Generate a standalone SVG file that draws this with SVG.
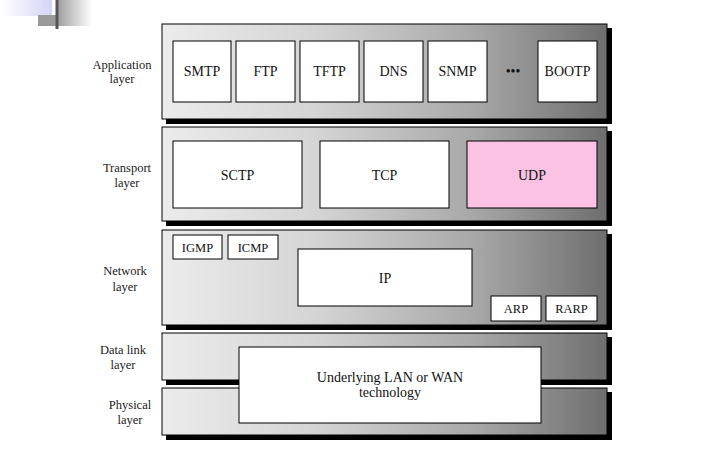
<svg xmlns="http://www.w3.org/2000/svg" width="720" height="454" viewBox="0 0 720 454">
<defs>
<linearGradient id="band" x1="0" y1="0" x2="1" y2="0">
<stop offset="0" stop-color="#ececec"/>
<stop offset="0.35" stop-color="#d4d4d4"/>
<stop offset="0.7" stop-color="#a8a8a8"/>
<stop offset="1" stop-color="#6e6e6e"/>
</linearGradient>
<linearGradient id="lav" x1="0" y1="0" x2="1" y2="0">
<stop offset="0" stop-color="#ffffff"/>
<stop offset="1" stop-color="#d4d4f6"/>
</linearGradient>
<linearGradient id="fade" x1="0" y1="0" x2="1" y2="0">
<stop offset="0" stop-color="#a0a0a0"/>
<stop offset="1" stop-color="#ffffff"/>
</linearGradient>
<style>
.shadow{fill:#000}
.band{fill:url(#band);stroke:#000;stroke-width:1}
.box{fill:#fff;stroke:#000;stroke-width:1}
.udp{fill:#fbc2e4;stroke:#000;stroke-width:1}
text{font-family:"Liberation Serif","DejaVu Serif",serif;fill:#111;text-anchor:middle}
.lbl{font-size:12.5px;fill:#222}
.t{font-size:14px}
.s{font-size:12.5px}
</style>
</defs>
<rect width="720" height="454" fill="#fff"/>
<g id="decor">
<rect x="0" y="0" width="52" height="16" fill="url(#lav)"/>
<rect x="38" y="15" width="19" height="11" fill="#9a9a9a"/>
<rect x="58" y="0" width="34" height="26" fill="url(#fade)"/>
<rect x="55.5" y="0" width="3" height="29" fill="#555"/>
</g>
<g id="labels">
<text class="lbl" x="122" y="69">Application</text>
<text class="lbl" x="122" y="83">layer</text>
<text class="lbl" x="127" y="172">Transport</text>
<text class="lbl" x="127" y="187">layer</text>
<text class="lbl" x="125" y="275">Network</text>
<text class="lbl" x="125" y="291">layer</text>
<text class="lbl" x="123" y="354">Data link</text>
<text class="lbl" x="123" y="369">layer</text>
<text class="lbl" x="130" y="409">Physical</text>
<text class="lbl" x="130" y="424">layer</text>
</g>
<g id="application-layer">
<rect class="shadow" x="166" y="28" width="446" height="96"/>
<rect class="band" x="162" y="24" width="445" height="95"/>
</g>
<g id="transport-layer">
<rect class="shadow" x="166" y="131" width="446" height="95"/>
<rect class="band" x="162" y="127" width="445" height="94"/>
</g>
<g id="network-layer">
<rect class="shadow" x="166" y="234" width="446" height="96"/>
<rect class="band" x="162" y="230" width="445" height="95"/>
</g>
<g id="datalink-layer">
<rect class="shadow" x="166" y="337" width="446" height="48"/>
<rect class="band" x="162" y="333" width="445" height="47"/>
</g>
<g id="physical-layer">
<rect class="shadow" x="166" y="392" width="446" height="48"/>
<rect class="band" x="162" y="388" width="445" height="47"/>
</g>
<g id="smtp"><rect class="box" x="173" y="41" width="58" height="61"/><text class="t" x="202" y="76">SMTP</text></g>
<g id="ftp"><rect class="box" x="236" y="41" width="59" height="61"/><text class="t" x="265.5" y="76">FTP</text></g>
<g id="tftp"><rect class="box" x="300" y="41" width="59" height="61"/><text class="t" x="329.5" y="76">TFTP</text></g>
<g id="dns"><rect class="box" x="364" y="41" width="59" height="61"/><text class="t" x="393.5" y="76">DNS</text></g>
<g id="snmp"><rect class="box" x="428" y="41" width="59" height="61"/><text class="t" x="457.5" y="76">SNMP</text></g>
<g id="dots"><text class="t" x="513" y="76">•••</text></g>
<g id="bootp"><rect class="box" x="538" y="41" width="59" height="61"/><text class="t" x="567.5" y="76">BOOTP</text></g>
<g id="sctp"><rect class="box" x="173" y="141" width="129" height="67"/><text class="t" x="237.5" y="180">SCTP</text></g>
<g id="tcp"><rect class="box" x="320" y="141" width="129" height="67"/><text class="t" x="384.5" y="180">TCP</text></g>
<g id="udp"><rect class="udp" x="467" y="141" width="130" height="67"/><text class="t" x="532" y="180">UDP</text></g>
<g id="igmp"><rect class="box" x="173" y="235" width="49" height="24"/><text class="s" x="197.5" y="252">IGMP</text></g>
<g id="icmp"><rect class="box" x="228" y="235" width="50" height="24"/><text class="s" x="253" y="252">ICMP</text></g>
<g id="ip"><rect class="box" x="298" y="249" width="174" height="57"/><text class="t" x="385" y="283">IP</text></g>
<g id="arp"><rect class="box" x="491" y="296" width="50" height="25"/><text class="s" x="516" y="313">ARP</text></g>
<g id="rarp"><rect class="box" x="546" y="296" width="51" height="25"/><text class="s" x="571.5" y="313">RARP</text></g>
<g id="lan-wan"><rect class="box" x="239" y="347" width="302" height="76"/><text class="t" x="390" y="382">Underlying LAN or WAN</text><text class="t" x="390" y="397">technology</text></g>
<g id="connectors"></g>
</svg>
